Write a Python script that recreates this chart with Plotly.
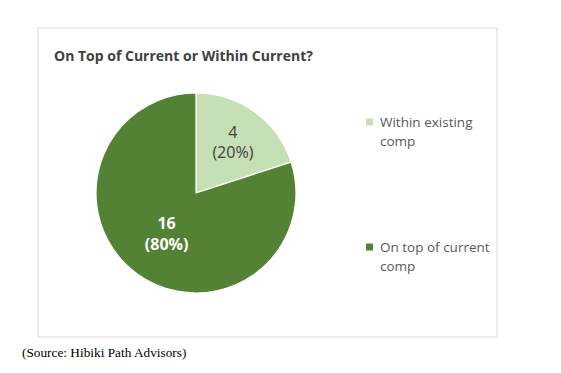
import plotly.graph_objects as go

labels = ["Within existing comp", "On top of current comp"]
legend_lines = [["Within existing", "comp"], ["On top of current", "comp"]]
values = [4, 16]
colors = ["#C5E0B4", "#548235"]
text_colors = ["#404040", "#FFFFFF"]
title = "On Top of Current or Within Current?"
source = "(Source: Hibiki Path Advisors)"

# page body has an 8px margin; figure drawn at 553x365, positions are page px minus 8
OFF = 8
W, H = 561 - OFF, 373 - OFF


def px(x):
    return (x - OFF) / W


def py(y):
    return 1 - (y - OFF) / H


fig = go.Figure()
fig.add_trace(go.Pie(
    labels=labels, values=values, sort=False, direction="clockwise", rotation=0,
    marker=dict(colors=colors, line=dict(color="white", width=1.2)),
    texttemplate=["%{value}<br>(%{percent:.0%})", "<b>%{value}</b><br><b>(%{percent:.0%})</b>"],
    textposition="inside",
    insidetextorientation="horizontal",
    insidetextfont=dict(color=text_colors, size=16, family="Open Sans"),
    domain=dict(x=[px(96), px(296)], y=[py(293), py(93)]),
    showlegend=False, hoverinfo="label+value+percent",
))

# chart border
fig.add_shape(type="rect", xref="paper", yref="paper",
              x0=px(38), x1=px(497), y0=py(337), y1=py(28),
              line=dict(color="#D9D9D9", width=1), fillcolor="rgba(0,0,0,0)")

fig.add_annotation(text="<b>" + title + "</b>", x=px(52), y=py(55), xref="paper", yref="paper",
                   xanchor="left", yanchor="middle", showarrow=False,
                   font=dict(family="Open Sans", size=14, color="#404040"))

# legend
leg_y = [122, 247]
for i, lines in enumerate(legend_lines):
    yc = leg_y[i]
    fig.add_shape(type="rect", xref="paper", yref="paper",
                  x0=px(366), x1=px(373), y0=py(yc + 3.5), y1=py(yc - 3.5),
                  line=dict(width=0), fillcolor=colors[i])
    for j, ln in enumerate(lines):
        fig.add_annotation(text=ln, x=px(378), y=py(yc + 18.5 * j), xref="paper", yref="paper",
                           xanchor="left", yanchor="middle", showarrow=False,
                           font=dict(family="Open Sans", size=13.5, color="#595959"))

fig.add_annotation(text=source, x=px(20), y=py(352), xref="paper", yref="paper",
                   xanchor="left", yanchor="middle", showarrow=False,
                   font=dict(family="Liberation Serif", size=13.3, color="#000000"))

fig.update_layout(width=W, height=H, margin=dict(l=0, r=0, t=0, b=0),
                  paper_bgcolor="white", plot_bgcolor="white")
fig.write_html("out.html")
